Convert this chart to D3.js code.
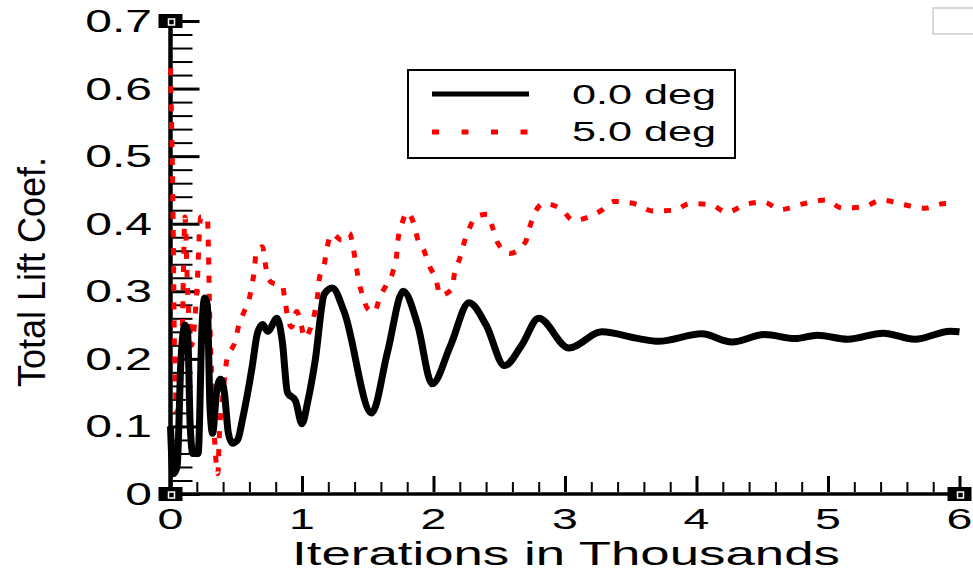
<!DOCTYPE html>
<html>
<head>
<meta charset="utf-8">
<script src="https://cdn.jsdelivr.net/npm/d3@7"></script>
<style>
  body { margin: 0; background: #fff; }
  svg { display: block; font-family: "Liberation Sans", Arial, sans-serif; }
</style>
</head>
<body>
<div id="chart"></div>
<script>
// iterations (thousands) / lift coefficient
let zeroX = [0, 0.02, 0.05, 0.08, 0.11, 0.13, 0.15, 0.17, 0.21, 0.24, 0.26, 0.28, 0.30, 0.32, 0.35, 0.38, 0.41, 0.44, 0.47, 0.51, 0.55, 0.62, 0.66, 0.70, 0.74, 0.81, 0.85, 0.89, 0.95, 1.0, 1.045, 1.1, 1.17, 1.23, 1.32, 1.53, 1.65, 1.77, 1.88, 1.99, 2.13, 2.27, 2.40, 2.54, 2.67, 2.80, 3.03, 3.28, 3.56, 3.71, 4.04, 4.27, 4.52, 4.75, 4.92, 5.15, 5.42, 5.66, 5.93, 6.0];
let zeroY = [0.10, 0.03, 0.04, 0.20, 0.25, 0.24, 0.10, 0.06, 0.06, 0.25, 0.29, 0.28, 0.13, 0.09, 0.15, 0.17, 0.15, 0.09, 0.075, 0.08, 0.113, 0.187, 0.237, 0.251, 0.241, 0.26, 0.226, 0.15, 0.138, 0.104, 0.138, 0.197, 0.296, 0.305, 0.27, 0.12, 0.21, 0.30, 0.25, 0.163, 0.22, 0.283, 0.25, 0.19, 0.22, 0.26, 0.216, 0.24, 0.23, 0.226, 0.237, 0.225, 0.236, 0.23, 0.235, 0.229, 0.238, 0.229, 0.241, 0.24];

let fiveX = [0, 0.02, 0.03, 0.05, 0.09, 0.11, 0.13, 0.16, 0.20, 0.23, 0.28, 0.30, 0.33, 0.36, 0.37, 0.40, 0.43, 0.49, 0.52, 0.56, 0.60, 0.62, 0.64, 0.65, 0.70, 0.72, 0.74, 0.78, 0.85, 0.87, 0.89, 0.92, 0.96, 0.99, 1.02, 1.07, 1.10, 1.12, 1.13, 1.17, 1.19, 1.23, 1.30, 1.36, 1.39, 1.41, 1.43, 1.46, 1.50, 1.55, 1.59, 1.64, 1.69, 1.72, 1.73, 1.76, 1.80, 1.85, 1.88, 1.93, 1.97, 2.02, 2.05, 2.14, 2.16, 2.20, 2.23, 2.27, 2.33, 2.41, 2.45, 2.49, 2.58, 2.70, 2.73, 2.77, 2.84, 2.98, 3.06, 3.15, 3.28, 3.37, 3.54, 3.66, 3.83, 3.95, 4.11, 4.23, 4.38, 4.51, 4.64, 4.80, 4.98, 5.11, 5.27, 5.41, 5.58, 5.74, 5.89, 5.95];
let fiveY = [0.63, 0.40, 0.22, 0.12, 0.25, 0.41, 0.30, 0.22, 0.30, 0.41, 0.41, 0.25, 0.10, 0.03, 0.08, 0.15, 0.20, 0.225, 0.25, 0.27, 0.29, 0.31, 0.335, 0.357, 0.366, 0.342, 0.32, 0.312, 0.309, 0.287, 0.263, 0.247, 0.27, 0.254, 0.231, 0.249, 0.272, 0.296, 0.317, 0.34, 0.364, 0.385, 0.376, 0.386, 0.364, 0.34, 0.317, 0.294, 0.274, 0.269, 0.29, 0.309, 0.328, 0.354, 0.376, 0.40, 0.417, 0.40, 0.377, 0.359, 0.337, 0.317, 0.294, 0.303, 0.327, 0.349, 0.37, 0.392, 0.411, 0.414, 0.394, 0.371, 0.356, 0.373, 0.394, 0.416, 0.43, 0.42, 0.405, 0.408, 0.42, 0.433, 0.429, 0.419, 0.42, 0.43, 0.428, 0.417, 0.429, 0.432, 0.421, 0.429, 0.435, 0.423, 0.425, 0.435, 0.428, 0.423, 0.43, 0.43];

let xTicks = [0, 1, 2, 3, 4, 5, 6];
let yTicks = [0, 0.1, 0.2, 0.3, 0.4, 0.5, 0.6, 0.7];
let yTickLabels = ["0", "0.1", "0.2", "0.3", "0.4", "0.5", "0.6", "0.7"];
let seriesNames = ["0.0 deg", "5.0 deg"];

let W = 973, H = 573;
let svg = d3.select("#chart").append("svg").attr("width", W).attr("height", H);

let x = d3.scaleLinear().domain([0, 6]).range([170.5, 959.5]);
let y = d3.scaleLinear().domain([0, 0.7]).range([494, 21]);

let xMinor = d3.range(0, 6.001, 0.2).map(v => +v.toFixed(1)).filter(v => !xTicks.includes(v));
let yMinor = d3.range(0, 0.7001, 0.02).map(v => +v.toFixed(2)).filter(v => Math.abs(v * 10 - Math.round(v * 10)) > 1e-6);

// ticks point inward
let gy = svg.append("g").attr("transform", "translate(172.5,0)");
gy.append("g").call(d3.axisRight(y).tickValues(yMinor).tickSize(20).tickFormat(""))
  .call(g => g.select(".domain").remove())
  .call(g => g.selectAll("line").attr("stroke-width", 2));
gy.append("g").call(d3.axisRight(y).tickValues(yTicks).tickSize(27).tickFormat(""))
  .call(g => g.select(".domain").remove())
  .call(g => g.selectAll("line").attr("stroke-width", 3));

let gx = svg.append("g").attr("transform", "translate(0,492)");
gx.append("g").call(d3.axisTop(x).tickValues(xMinor).tickSize(10).tickFormat(""))
  .call(g => g.select(".domain").remove())
  .call(g => g.selectAll("line").attr("stroke-width", 2));
gx.append("g").call(d3.axisTop(x).tickValues(xTicks).tickSize(16).tickFormat(""))
  .call(g => g.select(".domain").remove())
  .call(g => g.selectAll("line").attr("stroke-width", 3));

// axis lines
svg.append("line").attr("x1", x(0)).attr("x2", x(0)).attr("y1", y(0.7)).attr("y2", y(0))
  .attr("stroke", "#000").attr("stroke-width", 4.5);
svg.append("line").attr("x1", x(0)).attr("x2", x(6)).attr("y1", y(0)).attr("y2", y(0))
  .attr("stroke", "#000").attr("stroke-width", 3.5);

// corner markers
[[0, 0.7], [0, 0], [6, 0]].forEach(([cx, cy]) => {
  svg.append("rect").attr("x", x(cx) - 12).attr("y", y(cy) - 7).attr("width", 24).attr("height", 14).attr("fill", "#000");
  svg.append("rect").attr("x", x(cx) - 2).attr("y", y(cy) - 2).attr("width", 6).attr("height", 6)
    .attr("fill", "#000").attr("stroke", "#fff").attr("stroke-width", 1.5);
});

// tick labels
svg.append("g").selectAll("text").data(yTicks).join("text")
  .attr("text-anchor", "end")
  .attr("transform", d => `translate(152,${y(d) + 11}) scale(1.55,1)`)
  .attr("font-size", 31)
  .text((d, i) => yTickLabels[i]);

svg.append("g").selectAll("text").data(xTicks).join("text")
  .attr("text-anchor", "middle")
  .attr("transform", d => `translate(${x(d)},529) scale(1.55,1)`)
  .attr("font-size", 30)
  .text(d => d);

svg.append("text").attr("text-anchor", "middle")
  .attr("transform", "translate(566,565) scale(1.6,1)")
  .attr("font-size", 33).text("Iterations in Thousands");

svg.append("text").attr("text-anchor", "middle")
  .attr("transform", "translate(45,272) rotate(-90) scale(1,1.1)")
  .attr("font-size", 36).text("Total Lift Coef.");

// series
let line = d3.line().x(d => x(d[0])).y(d => y(d[1])).curve(d3.curveMonotoneX);

svg.append("path").datum(fiveX.map((v, i) => [v, fiveY[i]]))
  .attr("d", line).attr("fill", "none").attr("stroke", "#ff0000")
  .attr("stroke-width", 5).attr("stroke-dasharray", "7,11");

svg.append("path").datum(zeroX.map((v, i) => [v, zeroY[i]]))
  .attr("d", line).attr("fill", "none").attr("stroke", "#000")
  .attr("stroke-width", 7).attr("stroke-linejoin", "round");

// legend
let lg = svg.append("g");
lg.append("rect").attr("x", 408).attr("y", 70).attr("width", 327).attr("height", 88)
  .attr("fill", "#fff").attr("stroke", "#000").attr("stroke-width", 2);
lg.append("line").attr("x1", 432).attr("x2", 529).attr("y1", 94).attr("y2", 94)
  .attr("stroke", "#000").attr("stroke-width", 5);
lg.append("line").attr("x1", 432).attr("x2", 530).attr("y1", 132).attr("y2", 132)
  .attr("stroke", "#ff0000").attr("stroke-width", 5).attr("stroke-dasharray", "7,22.5");
lg.selectAll("text.lbl").data(seriesNames).join("text").attr("class", "lbl")
  .attr("transform", (d, i) => `translate(572,${104 + i * 37}) scale(1.6,1)`)
  .attr("font-size", 27).text(d => d);

// small empty box at top right
svg.append("rect").attr("x", 933).attr("y", 8).attr("width", 44).attr("height", 26)
  .attr("fill", "none").attr("stroke", "#ccc").attr("stroke-width", 1.5);
</script>
</body>
</html>
